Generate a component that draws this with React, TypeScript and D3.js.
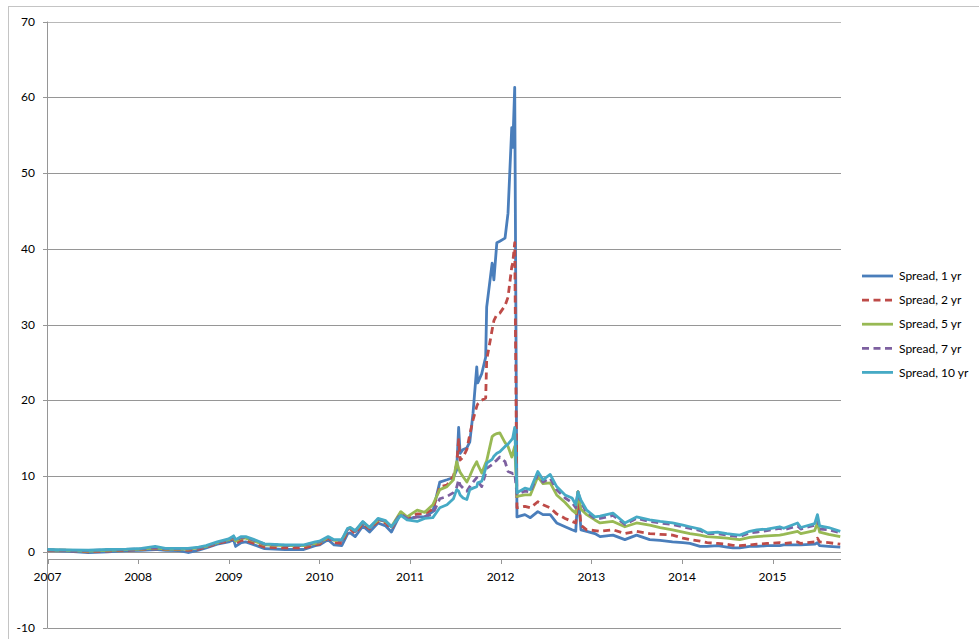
import React from "react";
import * as d3 from "d3";

const dates: string[] = [
  "2007-01-01","2007-03-15","2007-06-15","2007-09-01","2007-11-15",
  "2008-01-15","2008-03-10","2008-04-20","2008-06-15","2008-07-20","2008-09-01","2008-10-01","2008-11-15","2008-12-31",
  "2009-01-20","2009-01-28","2009-02-20","2009-03-10","2009-04-05","2009-05-25","2009-08-15","2009-10-30","2009-12-15",
  "2010-01-01","2010-02-05","2010-03-01","2010-04-01","2010-04-25","2010-05-05","2010-05-25","2010-06-25","2010-07-22","2010-08-25","2010-09-25","2010-10-18","2010-11-25","2010-12-20",
  "2011-01-30","2011-03-01","2011-04-03","2011-05-01","2011-05-30","2011-06-25","2011-07-08","2011-07-16","2011-07-22","2011-08-03","2011-08-18","2011-08-30","2011-09-12","2011-09-27","2011-10-01","2011-10-17","2011-11-02","2011-11-06","2011-11-28","2011-12-05","2011-12-17","2011-12-29",
  "2012-01-19","2012-01-31","2012-02-15","2012-02-19","2012-02-27","2012-03-07","2012-04-08","2012-04-30","2012-05-30","2012-06-20","2012-07-19","2012-08-14","2012-09-17","2012-10-15","2012-10-30","2012-11-08","2012-11-20","2012-12-13",
  "2013-01-15","2013-02-05","2013-03-29","2013-05-16","2013-07-02","2013-08-24","2013-10-05","2013-11-24",
  "2014-01-05","2014-02-02","2014-03-15","2014-04-12","2014-05-25","2014-07-01","2014-07-25","2014-08-22","2014-10-01","2014-10-30","2014-12-10",
  "2015-01-30","2015-02-15","2015-04-12","2015-04-25","2015-06-20","2015-07-01","2015-07-10","2015-08-15","2015-10-01",
];

const spread1: number[] = [
  0.2,0.1,-0.1,0.0,0.15,
  0.2,0.3,0.2,0.15,-0.1,0.2,0.5,1.0,1.3,
  1.6,0.7,1.2,1.3,1.0,0.4,0.3,0.3,0.8,
  0.9,1.6,0.9,0.8,2.4,2.5,2.0,3.4,2.6,3.8,3.4,2.6,5.1,4.3,
  4.6,4.6,5.3,9.2,9.5,9.8,10.8,16.4,13.0,13.5,13.7,14.5,18.3,24.4,22.3,23.5,25.7,32.3,38.1,35.9,40.8,41.0,
  41.4,44.7,56.0,53.4,61.3,4.6,4.9,4.5,5.3,4.9,4.9,3.8,3.3,2.9,2.7,7.9,2.9,2.7,
  2.4,2.0,2.2,1.6,2.2,1.6,1.5,1.3,
  1.2,1.1,0.7,0.7,0.8,0.6,0.5,0.5,0.7,0.7,0.8,
  0.8,0.9,0.9,0.9,1.0,1.2,0.8,0.7,0.6,
];

const spread2: number[] = [
  0.2,0.15,0.0,0.1,0.2,
  0.3,0.4,0.3,0.3,0.2,0.35,0.6,1.1,1.4,
  1.8,1.1,1.5,1.5,1.2,0.6,0.5,0.5,0.9,
  1.0,1.8,1.2,1.1,2.8,3.0,2.4,3.7,3.0,4.0,3.8,3.0,5.2,4.5,
  5.0,5.0,5.6,8.6,8.8,10.0,11.5,14.8,12.1,12.5,13.5,15.5,17.4,19.2,19.5,20.0,20.3,25.3,29.3,30.5,31.3,31.5,
  32.5,33.6,37.6,38.1,40.8,5.8,6.0,5.8,6.6,6.2,5.8,5.0,4.4,4.0,3.8,7.9,3.5,2.9,
  2.8,2.7,2.9,2.4,2.7,2.4,2.3,2.2,
  1.8,1.6,1.4,1.2,1.1,1.0,0.85,0.8,0.9,1.0,1.1,
  1.2,1.1,1.3,1.1,1.3,1.8,1.3,1.2,1.0,
];

const spread5: number[] = [
  0.25,0.2,0.1,0.2,0.3,
  0.35,0.5,0.35,0.35,0.35,0.5,0.7,1.2,1.6,
  1.9,1.4,1.8,1.8,1.5,0.9,0.8,0.8,1.1,
  1.2,1.9,1.5,1.5,3.0,3.2,2.7,3.9,3.2,4.2,4.0,3.3,5.3,4.6,
  5.5,5.2,6.2,8.2,8.6,9.5,11.9,11.0,10.5,9.9,9.2,10.0,11.0,11.9,11.5,10.4,11.7,12.0,15.2,15.4,15.6,15.7,
  14.4,13.9,12.5,13.0,13.9,7.3,7.5,7.5,9.9,9.0,9.1,7.5,6.5,5.5,5.1,7.9,5.6,4.9,
  4.2,3.8,4.0,3.3,3.8,3.5,3.2,2.9,
  2.6,2.4,2.2,2.0,1.9,1.8,1.7,1.6,1.9,2.0,2.1,
  2.2,2.3,2.7,2.4,2.8,3.8,2.6,2.3,2.0,
];

const spread7: number[] = [
  0.25,0.2,0.15,0.25,0.3,
  0.4,0.55,0.4,0.4,0.4,0.5,0.7,1.2,1.6,
  2.0,1.5,1.9,1.9,1.6,1.0,0.85,0.85,1.2,
  1.3,1.9,1.5,1.5,3.0,3.2,2.7,3.9,3.2,4.3,4.0,3.3,5.0,4.4,
  4.6,4.6,5.0,7.0,7.3,7.8,8.5,9.5,8.8,8.4,8.0,8.6,9.2,9.8,9.3,8.6,10.4,11.0,11.5,11.8,12.1,12.5,
  11.9,10.6,10.4,10.3,10.4,7.6,8.0,7.9,10.2,9.2,9.7,8.2,7.1,6.5,5.8,7.9,6.5,5.2,
  4.4,4.4,4.8,3.6,4.4,4.0,3.8,3.6,
  3.3,3.1,2.8,2.4,2.4,2.2,2.1,2.0,2.5,2.6,2.8,
  3.1,2.9,3.4,3.0,3.5,4.2,3.0,2.9,2.5,
];

const spread10: number[] = [
  0.3,0.25,0.2,0.3,0.35,
  0.45,0.7,0.45,0.45,0.45,0.6,0.8,1.3,1.7,
  2.1,1.6,2.0,2.0,1.7,1.05,0.9,0.9,1.3,
  1.4,2.0,1.6,1.6,3.1,3.2,2.8,4.0,3.2,4.4,4.1,3.3,4.8,4.2,
  4.0,4.4,4.5,5.8,6.2,7.0,8.2,8.0,7.5,7.1,6.9,8.2,8.4,8.6,9.1,9.3,11.0,11.7,12.2,12.6,13.0,13.2,
  13.9,14.2,14.8,15.0,16.4,7.8,8.4,8.2,10.6,9.5,10.2,8.6,7.5,7.1,6.2,7.9,6.8,5.5,
  4.6,4.7,5.1,3.8,4.6,4.2,4.0,3.8,
  3.5,3.3,3.0,2.5,2.6,2.4,2.3,2.2,2.7,2.9,3.0,
  3.3,3.1,3.8,3.2,3.7,4.9,3.4,3.2,2.7,
];

const seriesNames: string[] = ["Spread, 1 yr", "Spread, 2 yr", "Spread, 5 yr", "Spread, 7 yr", "Spread, 10 yr"];
const seriesValues: number[][] = [spread1, spread2, spread5, spread7, spread10];
const seriesColors: string[] = ["#4a7ebb", "#be4b48", "#98b954", "#7d60a0", "#46aac5"];
const seriesDash: (string | undefined)[] = [undefined, "7 4.5", undefined, "7 4.5", undefined];

const yTicks: number[] = [-10, 0, 10, 20, 30, 40, 50, 60, 70];
const yearTicks: number[] = [2007, 2008, 2009, 2010, 2011, 2012, 2013, 2014, 2015];

const FONT = "Lato, 'Open Sans', sans-serif";

export default function App() {
  const W = 979, H = 639;
  const parse = d3.timeParse("%Y-%m-%d");
  const parsed = dates.map((d) => parse(d) as Date);

  const x = d3.scaleTime()
    .domain([new Date(2007, 0, 1), new Date(2015, 9, 4)])
    .range([47.5, 841]);
  const y = d3.scaleLinear().domain([-10, 70]).range([627.5, 21.5]);

  const line = d3.line<[Date, number]>()
    .x((d) => x(d[0]))
    .y((d) => y(d[1]))
    .curve(d3.curveLinear);

  const axisY = y(0) + 7;
  const legendY0 = 276;
  const legendStep = 24.1;

  return (
    <svg width={W} height={H} style={{ position: "absolute", left: 0, top: 0, background: "#fff" }}>
      <rect x={8.5} y={6.5} width={1000} height={700} fill="#fff" stroke="#c4c4c4" strokeWidth={1} />
      {yTicks.map((t) => (
        <g key={t}>
          <line x1={47.5} x2={841} y1={Math.round(y(t)) + 0.5} y2={Math.round(y(t)) + 0.5}
            stroke={t === 70 ? "#b8b8b8" : "#969696"} strokeWidth={1} />
          <line x1={43} x2={47.5} y1={Math.round(y(t)) + 0.5} y2={Math.round(y(t)) + 0.5} stroke="#969696" />
          <text x={35} y={y(t)} dy="0.35em" textAnchor="end" fontFamily={FONT} fontSize={12} fill="#000">{t}</text>
        </g>
      ))}
      <line x1={47.5} x2={47.5} y1={21.5} y2={628} stroke="#969696" />
      <line x1={47.5} x2={841} y1={Math.round(axisY) + 0.5} y2={Math.round(axisY) + 0.5} stroke="#969696" />
      {yearTicks.map((yr) => {
        const xp = x(new Date(yr, 0, 1));
        return (
          <g key={yr}>
            <line x1={Math.round(xp) + 0.5} x2={Math.round(xp) + 0.5} y1={Math.round(axisY) + 0.5} y2={Math.round(axisY) + 5} stroke="#969696" />
            <text x={xp} y={581} textAnchor="middle" fontFamily={FONT} fontSize={12} fill="#000">{yr}</text>
          </g>
        );
      })}
      {seriesValues.map((vals, i) => {
        const pts: [Date, number][] = vals.map((v, j) => [parsed[j], v]);
        return (
          <path key={i} d={line(pts) || ""} fill="none" stroke={seriesColors[i]} strokeWidth={2.8}
            strokeDasharray={seriesDash[i]} strokeLinejoin="round" />
        );
      })}
      {seriesNames.map((n, i) => {
        const ly = legendY0 + i * legendStep;
        return (
          <g key={n}>
            <line x1={862} x2={893} y1={ly} y2={ly} stroke={seriesColors[i]} strokeWidth={2.8} strokeDasharray={seriesDash[i]} />
            <text x={899} y={ly} dy="0.35em" fontFamily={FONT} fontSize={12} fill="#000">{n}</text>
          </g>
        );
      })}
    </svg>
  );
}
